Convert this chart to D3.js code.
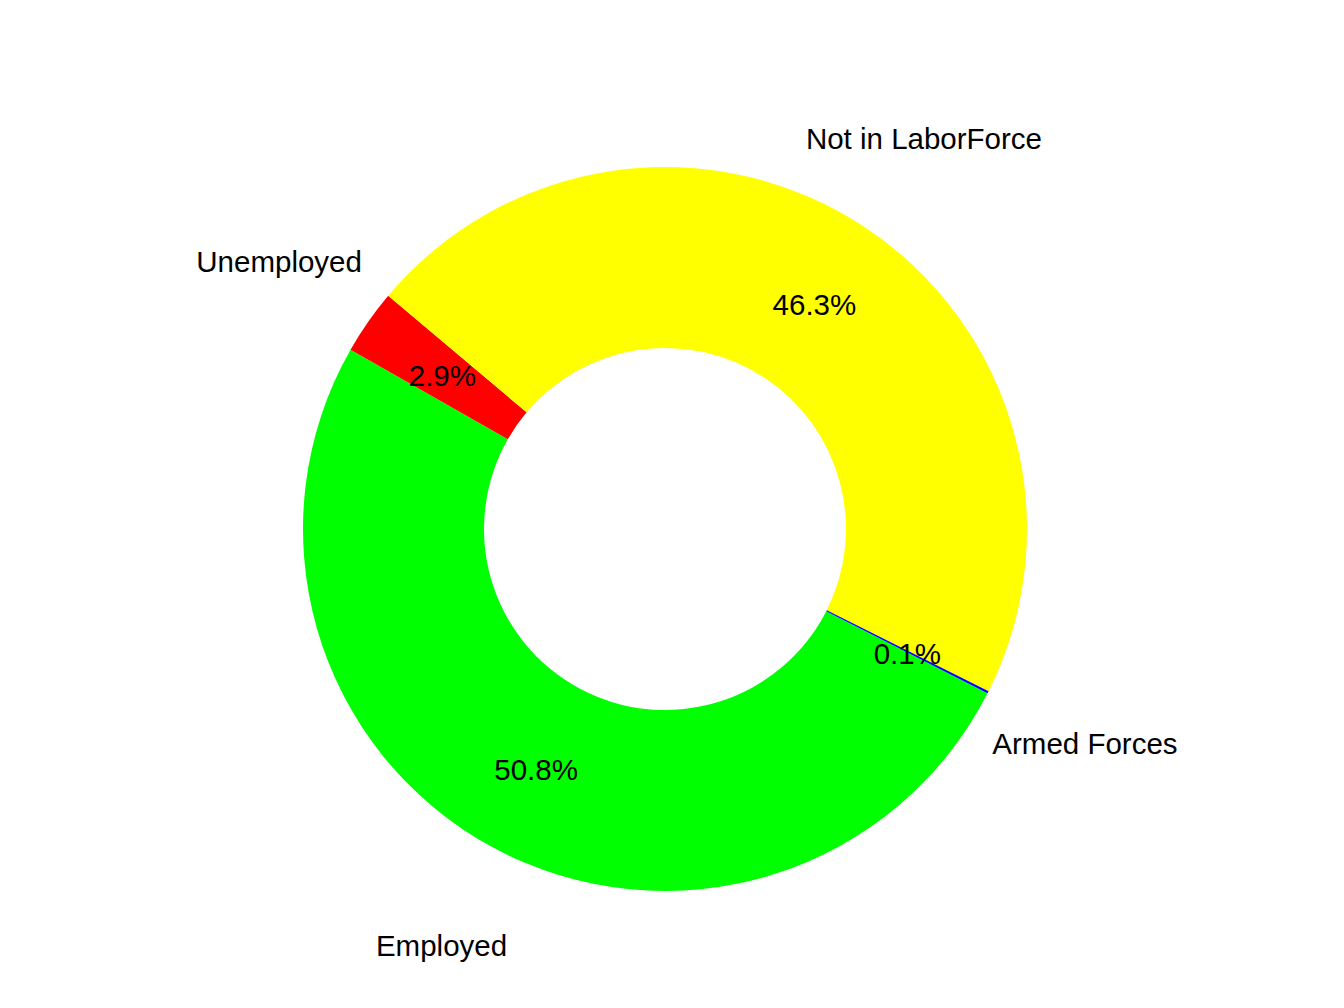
<!DOCTYPE html>
<html>
<head>
<meta charset="utf-8">
<script src="https://cdn.jsdelivr.net/npm/d3@7"></script>
<style>
  html, body { margin: 0; padding: 0; background: #fff; }
  svg { display: block; }
</style>
</head>
<body>
<svg id="chart" width="1344" height="1008"></svg>
<script>
// 데이터: 범주, 비율(%), 색상
const categories = ["Employed", "Unemployed", "Not in LaborForce", "Armed Forces"];
const shares = [50.8, 2.9, 46.3, 0.1];
const sliceColors = ["#00ff00", "#ff0000", "#ffff00", "#0000ff"];

const W = 1344, H = 1008;
const cx = 665, cy = 529;     // 도넛 중심
const outerR = 362;           // 바깥 반지름
const innerR = 181;           // 구멍 반지름
const labelR = outerR * 1.3;  // 범주 라벨 위치
const startDeg = 117;         // 첫 조각 시작 각도 (12시 기준 시계방향)
const textShift = 2;          // 글자 세로 보정

const rows = categories.map((c, i) => ({ name: c, value: shares[i], color: sliceColors[i] }));

const svg = d3.select("#chart");
const g = svg.append("g").attr("transform", `translate(${cx},${cy})`);

const start = startDeg * Math.PI / 180;
const pie = d3.pie()
  .sort(null)
  .value(d => d.value)
  .startAngle(start)
  .endAngle(start + 2 * Math.PI);

const arc = d3.arc().innerRadius(innerR).outerRadius(outerR);
const labelArc = d3.arc().innerRadius(labelR).outerRadius(labelR);

const arcs = pie(rows);

// 조각 그리기
g.append("g")
  .selectAll("path")
  .data(arcs)
  .join("path")
  .attr("d", arc)
  .attr("fill", d => d.data.color);

// 조각 안 퍼센트 텍스트
g.append("g")
  .selectAll("text")
  .data(arcs)
  .join("text")
  .attr("transform", d => `translate(${arc.centroid(d)})`)
  .attr("dy", textShift)
  .attr("text-anchor", "middle")
  .attr("dominant-baseline", "central")
  .attr("font-family", "Liberation Sans, Arial, sans-serif")
  .attr("font-size", 29.5)
  .attr("fill", "#000")
  .text(d => d.data.value.toFixed(1) + "%");

// 바깥 범주 라벨
g.append("g")
  .selectAll("text")
  .data(arcs)
  .join("text")
  .attr("transform", d => `translate(${labelArc.centroid(d)})`)
  .attr("dy", textShift)
  .attr("text-anchor", "middle")
  .attr("dominant-baseline", "central")
  .attr("font-family", "Liberation Sans, Arial, sans-serif")
  .attr("font-size", 29.5)
  .attr("fill", "#000")
  .text(d => d.data.name);
</script>
</body>
</html>
